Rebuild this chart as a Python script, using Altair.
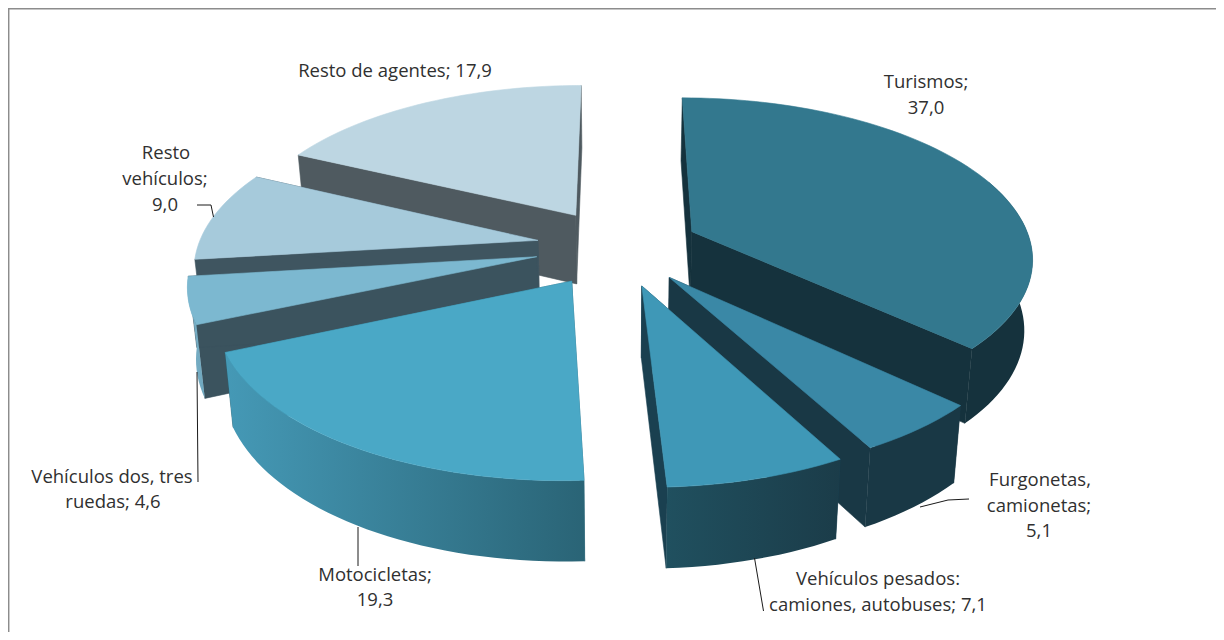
import math
import altair as alt
import pandas as pd

NAMES = ["Turismos", "Furgonetas, camionetas", "Vehículos pesados: camiones, autobuses",
         "Motocicletas", "Vehículos dos, tres ruedas", "Resto vehículos", "Resto de agentes"]
VALUES = [37.0, 5.1, 7.1, 19.3, 4.6, 9.0, 17.9]
EXPLODE = [0.24, 0.24, 0.25, 0.25, 0.245, 0.24, 0.24]
TOP_COLORS = ["#33788E", "#3A88A6", "#3F98B7", "#4AA8C6", "#7CB8D0", "#A6CADB", "#BDD6E2"]
CUT_COLORS = ["#15323D", "#193845", "#1A4050", "#2A6678", "#3B535E", "#3F5560", "#4F5A60"]
WALL_FROM = ["#15323D", "#193845", "#20505F", "#4599B6", "#7CB0C6", "#8FB3C4", "#A9C3CF"]
WALL_TO = ["#15323D", "#193845", "#1B3C49", "#2A6476", "#6FA8BF", "#8FB3C4", "#A9C3CF"]
DRAW_ORDER = [6, 5, 4, 3, 0, 1, 2]

LABEL_LINES = ["Resto de agentes; 17,9", "Turismos;", "37,0", "Resto", "vehículos;", "9,0",
               "Vehículos dos, tres", "ruedas; 4,6", "Motocicletas;", "19,3",
               "Furgonetas,", "camionetas;", "5,1", "Vehículos pesados:", "camiones, autobuses; 7,1"]
LABEL_X = [395, 926, 926, 166, 165, 165, 112, 113, 375, 375, 1040, 1039, 1039, 878, 878]
LABEL_Y = [71, 82, 108, 153, 179, 205, 477, 502, 575, 600, 480, 506, 531, 579, 605]

LEADER_X = [[197, 211, 213.5], [197, 198], [358, 358], [969, 948, 920], [754.5, 763.5]]
LEADER_Y = [[205, 205, 217], [372, 482], [527, 566], [499, 500, 507], [558, 611]]

W, H = 1208, 624
CX, CY, AX, AY, PERSP, DEPTH, SHRINK = 618, 246.5, 340, 158, 0.15, 70, 0.98
WALL_MIN, WALL_MAX = math.radians(70), math.radians(263.3)

x_enc = alt.X("x:Q", axis=None, scale=alt.Scale(domain=[8, 8 + W]))
y_enc = alt.Y("y:Q", axis=None, scale=alt.Scale(domain=[8 + H, 8]))


def project(px, py, bottom=False):
    s = 1 / (1 - PERSP * py)
    if bottom:
        return CX + SHRINK * AX * px * s, CY + SHRINK * AY * py * s + DEPTH * s
    return CX + AX * px * s, CY + AY * py * s


def polygon(points, fill, edge=None):
    df = pd.DataFrame({"x": [p[0] for p in points], "y": [p[1] for p in points],
                       "i": list(range(len(points)))})
    if edge:
        mark = alt.Chart(df).mark_line(interpolate="linear-closed", fill=fill, stroke=edge, strokeWidth=0.6)
    else:
        mark = alt.Chart(df).mark_line(interpolate="linear-closed", fill=fill, strokeOpacity=0)
    return mark.encode(x=x_enc, y=y_enc, order="i:Q")


layers = []
total = sum(VALUES)
starts = [sum(VALUES[:k]) / total * 2 * math.pi for k in range(len(VALUES))]
for k in DRAW_ORDER:
    a0 = starts[k]
    a1 = a0 + VALUES[k] / total * 2 * math.pi
    mid = (a0 + a1) / 2
    ox, oy = EXPLODE[k] * math.sin(mid), -EXPLODE[k] * math.cos(mid)
    n = max(6, int(VALUES[k] * 2))
    angles = [a0 + (a1 - a0) * j / n for j in range(n + 1)]
    arc = [(ox + math.sin(t), oy - math.cos(t)) for t in angles]
    top_arc = [project(*p) for p in arc]
    bot_arc = [project(*p, bottom=True) for p in arc]
    apex_t, apex_b = project(ox, oy), project(ox, oy, bottom=True)
    layers.append(polygon([top_arc[0], apex_t, apex_b, bot_arc[0]], CUT_COLORS[k], CUT_COLORS[k]))
    layers.append(polygon([top_arc[-1], apex_t, apex_b, bot_arc[-1]], CUT_COLORS[k], CUT_COLORS[k]))
    keep = [j for j, t in enumerate(angles) if WALL_MIN <= t <= WALL_MAX]
    if len(keep) >= 2:
        wall_fill = alt.Gradient(gradient="linear", x1=0, y1=0, x2=1, y2=0,
                                 stops=[alt.GradientStop(color=WALL_FROM[k], offset=0),
                                        alt.GradientStop(color=WALL_TO[k], offset=1)])
        layers.append(polygon([top_arc[j] for j in keep] + [bot_arc[j] for j in keep[::-1]], wall_fill))
    layers.append(polygon(top_arc + [apex_t], TOP_COLORS[k], TOP_COLORS[k]))

for lx, ly in zip(LEADER_X, LEADER_Y):
    df = pd.DataFrame({"x": lx, "y": ly, "i": list(range(len(lx)))})
    layers.append(alt.Chart(df).mark_line(color="#1A1A1A", strokeWidth=1).encode(
        x=x_enc, y=y_enc, order="i:Q"))

frame = pd.DataFrame({"x": [8.7, 8.7, 1216], "y": [632, 8.7, 8.7], "i": [0, 1, 2]})
layers.append(alt.Chart(frame).mark_line(color="#8C8C8C", strokeWidth=1.5).encode(
    x=x_enc, y=y_enc, order="i:Q"))

labels = pd.DataFrame({"x": LABEL_X, "y": LABEL_Y, "t": LABEL_LINES})
layers.append(alt.Chart(labels).mark_text(font="Open Sans", fontSize=18.5, color="#303030",
                                          align="center", baseline="middle").encode(
    x=x_enc, y=y_enc, text="t:N"))

chart = alt.layer(*layers).properties(
    width=W, height=H, padding=0, background="white",
    autosize=alt.AutoSizeParams(type="none", contains="padding"),
).configure_view(stroke=None)
chart.save("out.html", embed_options={"renderer": "svg", "actions": False})
